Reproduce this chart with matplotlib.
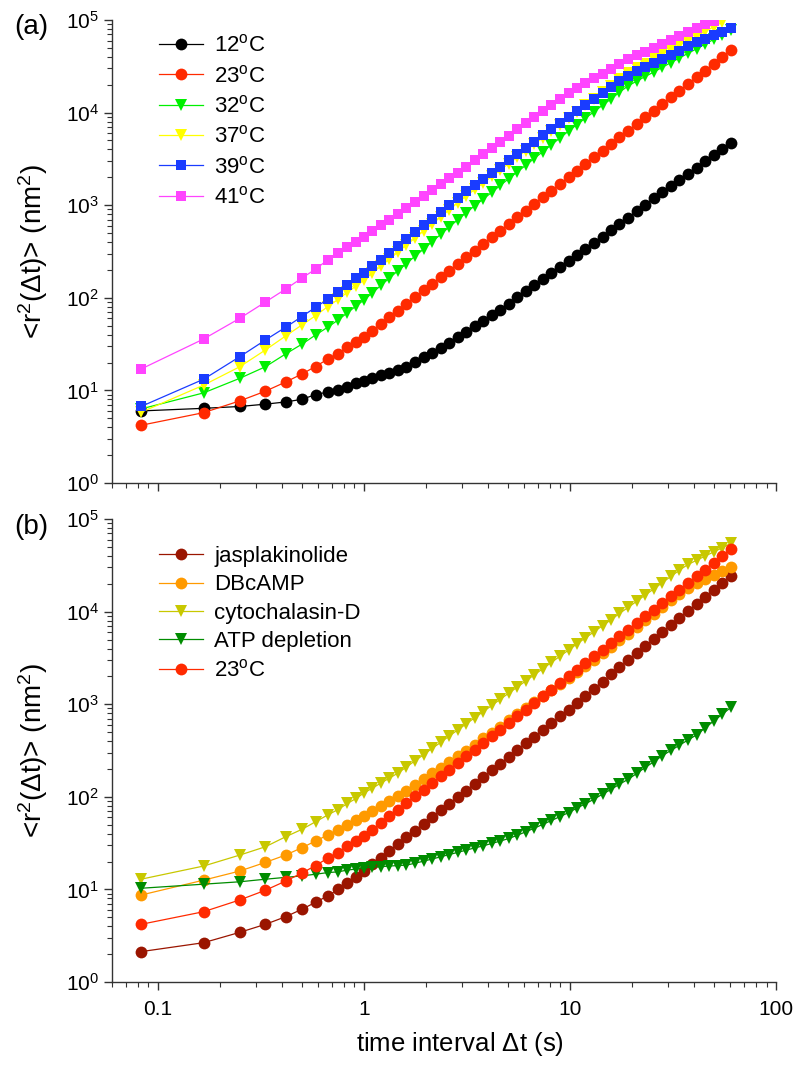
import numpy as np
import matplotlib
matplotlib.use("Agg")
import matplotlib.pyplot as plt
from matplotlib.ticker import LogLocator, FuncFormatter, NullFormatter

plt.rcParams.update({
    "font.family": ["Liberation Sans", "DejaVu Sans"],
    "mathtext.fontset": "custom",
    "mathtext.rm": "Liberation Sans",
    "mathtext.it": "Liberation Sans:italic",
    "mathtext.bf": "Liberation Sans:bold",
    "axes.spines.top": False,
    "axes.spines.right": False,
})

# ── data ──────────────────────────────────────────────────────────────────
lag_time = [0.083, 0.167, 0.25, 0.333, 0.417, 0.5, 0.583, 0.667, 0.75, 0.833, 0.917,
            1.0, 1.1, 1.21, 1.33, 1.46, 1.61, 1.77, 1.95, 2.14, 2.36,
            2.59, 2.85, 3.14, 3.45, 3.8, 4.18, 4.59, 5.05, 5.56, 6.12,
            6.73, 7.4, 8.14, 8.95, 9.85, 10.8, 11.9, 13.1, 14.4, 15.9,
            17.4, 19.2, 21.1, 23.2, 25.6, 28.1, 30.9, 34.0, 37.4, 41.2,
            45.3, 49.8, 54.8, 60.3]

msd_12C = [6.0, 6.4, 6.7, 7.1, 7.5, 8.0, 9.0, 9.6, 10.1, 11.0, 11.9,
           12.6, 13.5, 14.5, 15.6, 16.8, 18.0, 20.2, 22.7, 25.5, 28.5,
           32.7, 37.5, 43.0, 49.2, 56.5, 64.7, 74.1, 86.3, 101, 117,
           136, 159, 185, 216, 251, 290, 335, 387, 455, 535,
           627, 736, 865, 1016, 1191, 1400, 1626, 1892, 2198, 2553,
           2965, 3451, 4009, 4656]

msd_23C = [4.2, 5.75, 7.7, 9.8, 12.3, 15.0, 18.1, 21.7, 25.0, 29.3, 33.0,
           37.5, 44.3, 52.2, 61.7, 72.8, 85.9, 101, 120, 141, 167,
           197, 232, 274, 324, 382, 451, 532, 628, 741, 875,
           1033, 1219, 1439, 1698, 2004, 2366, 2793, 3296, 3890, 4592,
           5420, 6397, 7551, 8913, 10520, 12420, 14660, 17300, 20420, 24100,
           28450, 33570, 40000, 47800]

msd_32C = [6.3, 9.4, 13.5, 18.0, 24.7, 31.5, 39.6, 48.0, 57.5, 69.0, 81.5,
           94.4, 113, 136, 163, 195, 234, 281, 336, 403, 483,
           579, 693, 832, 984, 1167, 1380, 1633, 1936, 2291, 2710,
           3214, 3802, 4498, 5333, 6310, 7413, 8710, 10230, 12020, 14130,
           16600, 19500, 21880, 24550, 27540, 30900, 34670, 38900, 43650, 48980,
           54950, 61660, 69180, 77620]

msd_37C = [5.8, 11.4, 18.0, 27.3, 38.6, 50.8, 64.0, 80.0, 96.0, 115, 134,
           155, 185, 220, 261, 311, 371, 442, 526, 625, 745,
           887, 1057, 1259, 1479, 1738, 2042, 2399, 2818, 3311, 3890,
           4571, 5370, 6310, 7413, 8710, 10230, 12020, 14130, 16600, 19500,
           22910, 26920, 30200, 33880, 38020, 42660, 47860, 53580, 59980, 67300,
           75340, 84330, 94410]

msd_39C = [6.7, 13.2, 23.1, 35.0, 48.0, 62.5, 79.0, 96.0, 116, 137, 162,
           184, 218, 259, 306, 363, 431, 511, 605, 716, 849,
           1007, 1191, 1413, 1648, 1923, 2244, 2618, 3055, 3565, 4159,
           4853, 5662, 6607, 7709, 8995, 10420, 12080, 13960, 16180, 18750,
           21680, 25120, 27860, 30900, 34280, 38020, 42170, 46770, 51880, 57540,
           62810, 68390, 74640, 81280]

msd_41C = [17.0, 35.9, 60.0, 90.0, 124, 163, 204, 256, 303, 351, 398,
           452, 522, 605, 700, 811, 938, 1086, 1256, 1455, 1683,
           1950, 2254, 2606, 3041, 3548, 4140, 4831, 5636, 6577, 7674,
           8954, 10420, 12130, 14130, 16410, 18450, 20800, 23390, 26360, 29650,
           33420, 37580, 41500, 45710, 50470, 55590, 61380, 67610, 74640, 82220,
           90780, 98500]

msd_jasp = [2.13, 2.66, 3.44, 4.2, 5.07, 6.1, 7.26, 8.5, 10.0, 11.6, 13.5,
            15.8, 18.7, 22.1, 26.2, 30.9, 36.6, 43.2, 51.0, 60.3, 71.3,
            84.1, 99.5, 117, 139, 164, 194, 229, 271, 320, 378,
            447, 528, 624, 738, 871, 1038, 1239, 1476, 1758, 2099,
            2500, 2979, 3556, 4236, 5047, 6012, 7178, 8551, 10190, 12160,
            14490, 17260, 20610, 24550]

msd_dbcamp = [8.7, 12.6, 15.8, 19.6, 23.5, 28.2, 33.3, 38.7, 43.8, 49.6, 56.0,
              62.5, 70.5, 79.4, 89.5, 101, 117, 135, 155, 179, 206,
              238, 274, 316, 367, 427, 495, 575, 668, 776, 902,
              1047, 1219, 1416, 1644, 1910, 2218, 2576, 2999, 3540, 4169,
              4920, 5808, 6839, 8072, 9528, 11220, 13240, 15630, 18200, 20180,
              22390, 24830, 27540, 30550]

msd_cytod = [12.9, 17.9, 23.5, 28.9, 37.0, 44.5, 53.8, 63.6, 73.0, 85.0, 96.0,
             110, 124, 141, 159, 180, 210, 245, 285, 333, 387,
             452, 526, 614, 714, 834, 971, 1132, 1318, 1535, 1791,
             2084, 2432, 2831, 3304, 3846, 4477, 5212, 6067, 7063, 8222,
             9572, 11140, 12970, 15140, 17660, 20610, 24040, 28050, 32360, 35890,
             39810, 44160, 48980, 54580]

msd_atp = [10.3, 11.4, 12.1, 12.9, 13.5, 14.0, 14.6, 15.2, 15.5, 16.2, 16.6,
           17.1, 17.4, 17.6, 17.9, 18.1, 18.3, 19.2, 20.2, 21.3, 22.5,
           23.8, 25.1, 26.6, 28.1, 29.6, 31.4, 33.3, 35.5, 38.5, 42.0,
           46.0, 50.5, 55.6, 61.2, 67.6, 75.5, 84.3, 94.4, 107, 121,
           137, 155, 179, 208, 240, 279, 317, 361, 411, 468,
           555, 658, 778, 923]

DEG = r"$^\mathregular{o}$C"

series_a = [
    ("12" + DEG, msd_12C, "black", "o", 8.5),
    ("23" + DEG, msd_23C, "#ff2a00", "o", 8.5),
    ("32" + DEG, msd_32C, "#00f000", "v", 8.5),
    ("37" + DEG, msd_37C, "#ffff00", "v", 8.5),
    ("39" + DEG, msd_39C, "#1a3cff", "s", 7.8),
    ("41" + DEG, msd_41C, "#ff44ff", "s", 7.8),
]

series_b = [
    ("jasplakinolide", msd_jasp, "#9a1500", "o", 8.5),
    ("DBcAMP", msd_dbcamp, "#ff9a00", "o", 8.5),
    ("cytochalasin-D", msd_cytod, "#c8c800", "v", 8.5),
    ("ATP depletion", msd_atp, "#008c00", "v", 8.5),
    ("23" + DEG, msd_23C, "#ff2a00", "o", 8.5),
]


def y_fmt(v, _):
    return r"$\mathregular{10^{%d}}$" % int(round(np.log10(v)))


def style_axis(ax, show_xlabels):
    ax.set_xscale("log")
    ax.set_yscale("log")
    ax.set_xlim(0.06, 100)
    ax.set_ylim(1, 1e5)
    ax.yaxis.set_major_locator(LogLocator(base=10, numticks=10))
    ax.yaxis.set_minor_locator(LogLocator(base=10, subs=np.arange(2, 10), numticks=20))
    ax.yaxis.set_major_formatter(FuncFormatter(y_fmt))
    ax.yaxis.set_minor_formatter(NullFormatter())
    ax.xaxis.set_major_locator(LogLocator(base=10, numticks=10))
    ax.xaxis.set_minor_locator(LogLocator(base=10, subs=np.arange(2, 10), numticks=20))
    ax.xaxis.set_minor_formatter(NullFormatter())
    if show_xlabels:
        ax.xaxis.set_major_formatter(FuncFormatter(lambda v, _: "%g" % v))
    else:
        ax.xaxis.set_major_formatter(NullFormatter())
    ax.tick_params(which="major", direction="out", length=6, width=1.0,
                   labelsize=15, color="#333333")
    ax.tick_params(axis="x", which="major", pad=7)
    ax.tick_params(which="minor", direction="out", length=3.5, width=0.8,
                   color="#333333")
    for sp in ("left", "bottom"):
        ax.spines[sp].set_linewidth(1.0)
        ax.spines[sp].set_color("#333333")
    ax.set_ylabel(r"<r$^\mathregular{2}$($\Delta$t)> (nm$^\mathregular{2}$)",
                  fontsize=20, labelpad=11)


def draw(ax, series):
    for label, vals, color, marker, ms in series:
        ax.plot(lag_time[:len(vals)], vals, color=color, marker=marker,
                markersize=ms, markeredgewidth=0, linewidth=0.9, label=label)


fig = plt.figure(figsize=(8.0, 10.65), dpi=100)
ax_a = fig.add_axes([0.14, 0.5465, 0.83, 0.4347])
ax_b = fig.add_axes([0.14, 0.0779, 0.83, 0.4347])

draw(ax_a, series_a)
style_axis(ax_a, show_xlabels=False)
ax_a.legend(loc="upper left", bbox_to_anchor=(0.04, 1.012), frameon=False,
            fontsize=16, handlelength=2.0, handletextpad=0.5,
            labelspacing=0.38, numpoints=1)
fig.text(0.018, 0.975, "(a)", fontsize=20, ha="left", va="center")

draw(ax_b, series_b)
style_axis(ax_b, show_xlabels=True)
ax_b.legend(loc="upper left", bbox_to_anchor=(0.04, 0.985), frameon=False,
            fontsize=16, handlelength=2.0, handletextpad=0.5,
            labelspacing=0.33, numpoints=1)
ax_b.set_xlabel(r"time interval $\Delta$t (s)", fontsize=18.5, labelpad=8)
ax_b.xaxis.label.set_x(0.524)
fig.text(0.018, 0.505, "(b)", fontsize=20, ha="left", va="center")

fig.savefig("out.png", dpi=100)
